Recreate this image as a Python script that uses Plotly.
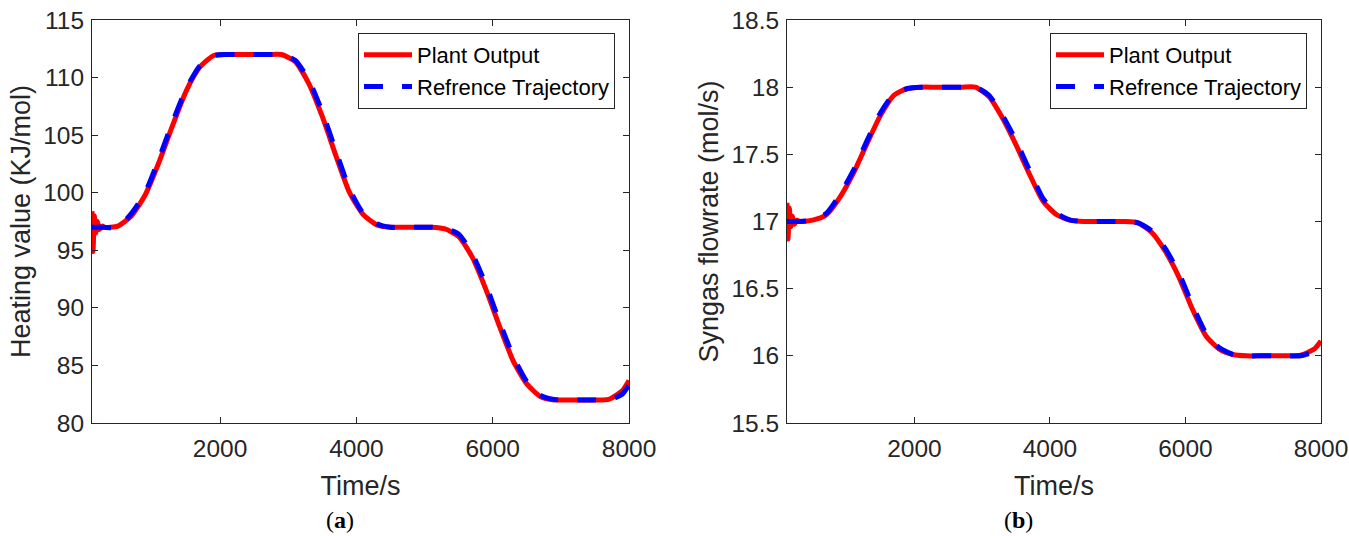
import plotly.graph_objects as go

# ---- time axis (s) ----
t_start = [120, 135, 155, 175, 200, 230, 270]
t_main = [300, 500, 700, 900, 1100, 1300, 1500, 1700, 1900, 2100, 2300, 2500,
          2700, 2900, 3100, 3300, 3500, 3700, 3900, 4100, 4300, 4500, 4700,
          4900, 5100, 5300, 5500, 5700, 5900, 6100, 6300, 6500, 6700, 6900,
          7100, 7300, 7500, 7700, 7900, 8000]

# ---- (a) heating value (KJ/mol) ----
hv_ref = [97.0, 97.0, 98.2, 100.0, 102.9, 106.1, 109.0, 111.0, 111.9, 112.0,
          112.0, 112.0, 112.0, 112.0, 111.5, 109.8, 107.0, 103.6, 100.3, 98.2,
          97.3, 97.0, 97.0, 97.0, 97.0, 96.9, 96.4, 94.7, 92.0, 88.8, 85.8,
          83.6, 82.4, 82.05, 82.0, 82.0, 82.0, 82.0, 82.5, 83.3]
hv_ref_start = [97.0, 97.0, 97.0, 97.0, 97.0, 97.0, 97.0]
hv_out = [97.0, 97.1, 98.0, 99.8, 102.6, 105.8, 108.8, 110.9, 111.9, 112.0,
          112.0, 112.0, 112.0, 112.0, 111.4, 109.5, 106.6, 103.2, 100.0, 98.1,
          97.2, 97.0, 97.0, 97.0, 97.0, 96.85, 96.2, 94.4, 91.6, 88.4, 85.4,
          83.4, 82.3, 82.0, 82.0, 82.0, 82.0, 82.05, 82.8, 83.7]
hv_out_start = [98.4, 94.9, 98.0, 96.5, 97.5, 96.8, 97.1]

# ---- (b) syngas flowrate (mol/s) ----
sf_ref = [17.0, 17.01, 17.06, 17.2, 17.38, 17.6, 17.81, 17.95, 17.99, 18.0,
          18.0, 18.0, 18.0, 18.0, 17.94, 17.79, 17.6, 17.38, 17.17, 17.06,
          17.01, 17.0, 17.0, 17.0, 17.0, 16.99, 16.93, 16.8, 16.62, 16.38,
          16.17, 16.06, 16.01, 16.0, 16.0, 16.0, 16.0, 16.0, 16.03, 16.07]
sf_ref_start = [17.0, 17.0, 17.0, 17.0, 17.0, 17.0, 17.0]
sf_out = [17.0, 17.01, 17.05, 17.18, 17.36, 17.58, 17.79, 17.94, 17.99, 18.0,
          18.0, 18.0, 18.0, 18.0, 17.93, 17.77, 17.57, 17.35, 17.15, 17.05,
          17.01, 17.0, 17.0, 17.0, 17.0, 16.99, 16.92, 16.78, 16.59, 16.35,
          16.15, 16.05, 16.01, 16.0, 16.0, 16.0, 16.0, 16.005, 16.05, 16.11]
sf_out_start = [17.14, 16.87, 17.1, 16.96, 17.04, 16.98, 17.01]

x_ticks = [2000, 4000, 6000, 8000]
hv_ticks = [80, 85, 90, 95, 100, 105, 110, 115]
sf_ticks = [15.5, 16, 16.5, 17, 17.5, 18, 18.5]

W, H = 1349, 536
FONT = "Liberation Sans"
AX = "#262626"
RED = "#FF0000"
BLUE = "#0000FF"

t_all = t_start + t_main
fig = go.Figure()

def add_pair(out_vals, ref_vals, xa, ya, legend):
    fig.add_trace(go.Scatter(
        x=t_all, y=out_vals, mode="lines", name="Plant Output",
        line=dict(color=RED, width=5, shape="spline", smoothing=0.6),
        xaxis=xa, yaxis=ya, legend=legend))
    fig.add_trace(go.Scatter(
        x=t_all, y=ref_vals, mode="lines", name="Refrence Trajectory",
        line=dict(color=BLUE, width=5, dash="19px,19px", shape="spline", smoothing=0.6),
        xaxis=xa, yaxis=ya, legend=legend))

add_pair(hv_out_start + hv_out, hv_ref_start + hv_ref, "x", "y", "legend")
add_pair(sf_out_start + sf_out, sf_ref_start + sf_ref, "x2", "y2", "legend2")

y_dom = [1 - 423 / H, 1 - 20 / H]
axis_common = dict(
    showline=True, linecolor=AX, linewidth=1, mirror="ticks",
    ticks="inside", ticklen=6, tickcolor=AX, showgrid=False, zeroline=False,
    automargin=False, tickfont=dict(family=FONT, size=24.5, color=AX),
)
title_font = dict(family=FONT, size=27, color=AX)

x_common = dict(range=[120, 8000], tickvals=x_ticks, ticklabelstandoff=4,
                title=dict(text="Time/s", font=title_font, standoff=14), **axis_common)

legend_common = dict(xanchor="right", yanchor="top",
                     bgcolor="white", bordercolor=AX, borderwidth=1,
                     font=dict(family=FONT, size=22, color="black"),
                     tracegroupgap=0, itemwidth=48)

fig.update_layout(
    width=W, height=H,
    margin=dict(l=0, r=0, t=0, b=0, autoexpand=False),
    paper_bgcolor="white", plot_bgcolor="white",
    font=dict(family=FONT, color=AX),
    xaxis=dict(domain=[92 / W, 629 / W], anchor="y", **x_common),
    yaxis=dict(domain=y_dom, range=[80, 115], tickvals=hv_ticks, anchor="x",
               ticklabelstandoff=2,
               title=dict(text="Heating value (KJ/mol)", font=title_font, standoff=4),
               **axis_common),
    xaxis2=dict(domain=[787 / W, 1321 / W], anchor="y2", **x_common),
    yaxis2=dict(domain=y_dom, range=[15.5, 18.5], tickvals=sf_ticks, anchor="x2",
                ticklabelstandoff=2,
                title=dict(text="Syngas flowrate (mol/s)", font=title_font, standoff=4),
                **axis_common),
    legend=dict(x=615 / W, y=1 - 33 / H, **legend_common),
    legend2=dict(x=1307 / W, y=1 - 33 / H, **legend_common),
    showlegend=True,
)

for label, xc in (("a", 340), ("b", 1018)):
    fig.add_annotation(
        x=xc / W, y=1 - 520 / H, xref="paper", yref="paper",
        text=f"(<b>{label}</b>)", showarrow=False,
        font=dict(family="Liberation Serif", size=24, color="black"),
        xanchor="center", yanchor="middle")

fig.write_html("out.html")
